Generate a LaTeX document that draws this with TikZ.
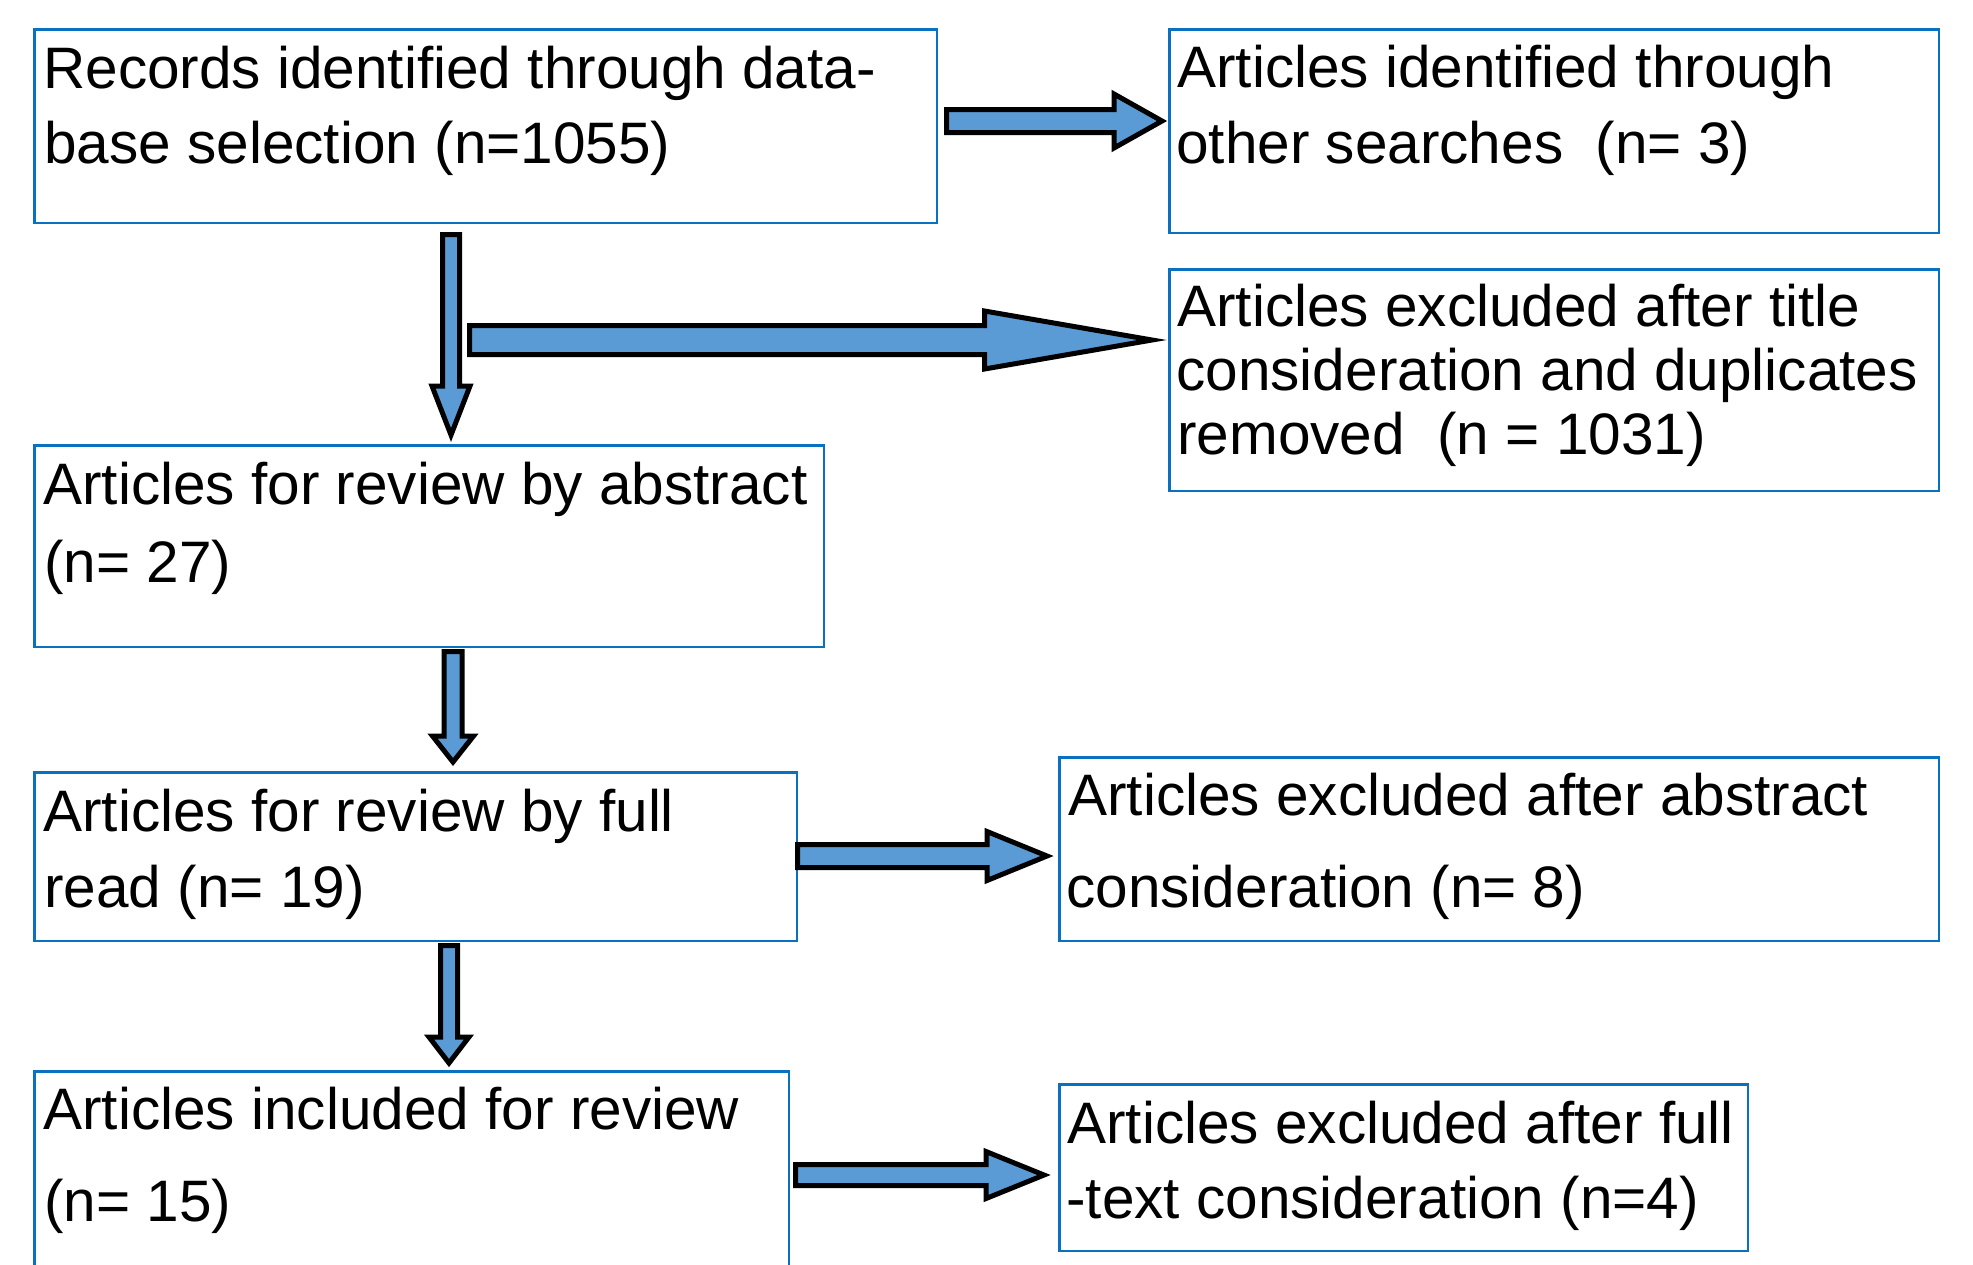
\documentclass[tikz,border=0pt]{standalone}
\usepackage{fontspec}
\setmainfont{Liberation Sans}
\usetikzlibrary{fit}
\definecolor{boxblue}{RGB}{10,112,192}
\definecolor{arrowblue}{RGB}{91,155,213}
\newcommand\hblock[5]{\draw[barrow] (#1) ++(0,-#4) -- ++(#2,0) -- ++(0,#4-#5) -- ++(#3,#5) -- ++(-#3,#5) -- ++(0,#4-#5) -- ++(-#2,0) -- cycle;}
\newcommand\vblock[5]{\draw[barrow] (#1) ++(-#4,0) -- ++(0,#2) -- ++(#4-#5,0) -- ++(#5,#3) -- ++(#5,-#3) -- ++(#4-#5,0) -- ++(0,-#2) -- cycle;}
\begin{document}
\begin{tikzpicture}[x=0.5pt,y=-0.5pt,
  box/.style={draw=boxblue, line width=1.25pt, fill=white, inner sep=0pt, outer sep=0pt},
  txt/.style={anchor=base west, inner sep=0pt, font=\fontsize{29.25pt}{35pt}\selectfont},
  barrow/.style={draw=black, fill=arrowblue, line width=2.5pt, line join=miter}]
\useasboundingbox (0,0) rectangle (1973,1264);
\clip (0,0) rectangle (1973,1264);
\fill[white] (0,0) rectangle (1973,1264);

% boxes
\node[box, fit={(34.25,29.25) (936.75,222.75)}] (b1) {};
\node[box, fit={(1169.25,29.25) (1938.75,232.75)}] (b2) {};
\node[box, fit={(1169.25,269.25) (1938.75,490.75)}] (b3) {};
\node[box, fit={(34.25,445.25) (823.75,646.75)}] (b4) {};
\node[box, fit={(34.25,772.25) (796.75,940.75)}] (b5) {};
\node[box, fit={(1059.25,757.25) (1938.75,940.75)}] (b6) {};
\node[box, fit={(34.25,1071.25) (788.75,1330)}] (b7) {};
\node[box, fit={(1059.25,1084.25) (1747.75,1250.75)}] (b8) {};

% texts
\node[txt] (t1a) at (43,88) {Records identified through data-};
\node[txt] (t1b) at (44,163) {base selection (n=1055)};
\node[txt] (t2a) at (1177,87) {Articles identified through};
\node[txt] (t2b) at (1176,163) {other searches\ \ (n= 3)};
\node[txt] (t3a) at (1177,326) {Articles excluded after title};
\node[txt] (t3b) at (1176,390) {consideration and duplicates};
\node[txt] (t3c) at (1177,454) {removed\ \ (n = 1031)};
\node[txt] (t4a) at (43,504) {Articles for review by abstract};
\node[txt] (t4b) at (44,582) {(n= 27)};
\node[txt] (t5a) at (43,831) {Articles for review by full};
\node[txt] (t5b) at (44,907) {read (n= 19)};
\node[txt] (t6a) at (1068,815) {Articles excluded after abstract};
\node[txt] (t6b) at (1066,907) {consideration (n= 8)};
\node[txt] (t7a) at (43,1129) {Articles included for review};
\node[txt] (t7b) at (44,1221) {(n= 15)};
\node[txt] (t8a) at (1067,1143) {Articles excluded after full};
\node[txt] (t8b) at (1066,1218) {-text consideration (n=4)};

% block arrows
\coordinate (a1) at (946.5,121);
\coordinate (a2) at (451,234.5);
\coordinate (a3) at (469.5,340);
\coordinate (a4) at (453,651.5);
\coordinate (a5) at (797.5,856);
\coordinate (a6) at (449,945.5);
\coordinate (a7) at (795.5,1175);
\hblock{a1}{167.5}{48}{11.5}{27}
\vblock{a2}{151.5}{49}{8.5}{19}
\hblock{a3}{515}{167.5}{14.5}{29}
\vblock{a4}{84.5}{26}{9}{20.5}
\hblock{a5}{189.5}{60}{11.5}{24.5}
\vblock{a6}{91.5}{26}{8.5}{20}
\hblock{a7}{190.5}{58}{10.5}{23.5}
\end{tikzpicture}
\end{document}
